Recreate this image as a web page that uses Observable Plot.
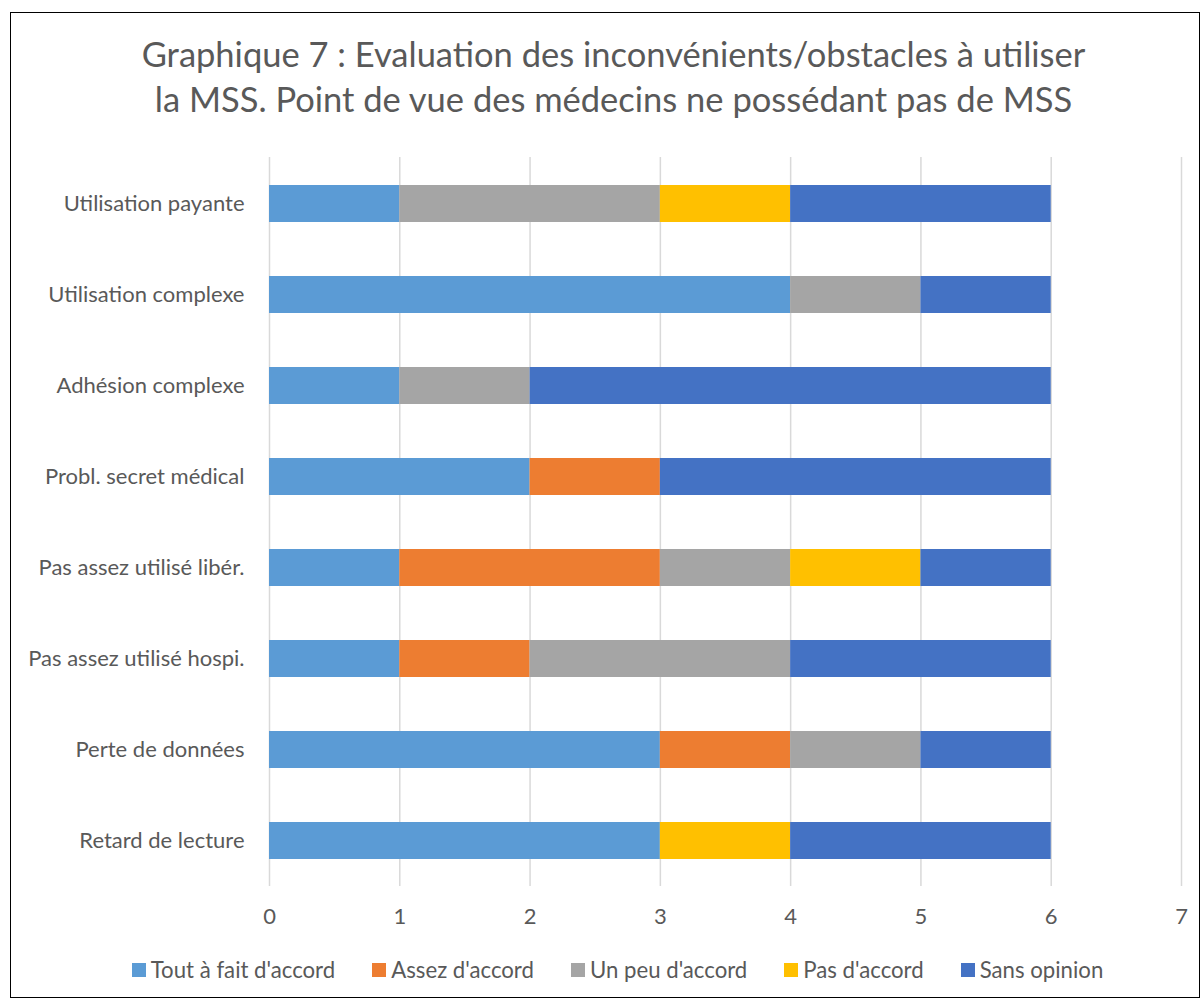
<!DOCTYPE html>
<html><head><meta charset="utf-8">
<script src="https://cdn.jsdelivr.net/npm/d3@7"></script>
<script src="https://cdn.jsdelivr.net/npm/@observablehq/plot@0.6"></script>
<style>
html,body{margin:0;padding:0;background:#fff;}
#wrap{position:relative;width:1203px;height:1001px;overflow:hidden;font-family:Lato,"Open Sans",sans-serif;color:#595959;}
#frame{position:absolute;left:10px;top:12px;width:1190px;height:986px;border:1.5px solid #000;box-sizing:border-box;}
#title{position:absolute;left:12px;top:31px;width:1203px;text-align:center;font-size:34.5px;line-height:45px;color:#595959;}
#chart{position:absolute;left:0;top:130px;}
#legend{position:absolute;left:16px;top:956px;width:1203px;display:flex;justify-content:center;gap:37px;font-size:22.2px;line-height:28px;}
.item{display:flex;align-items:center;}
.sw{width:14px;height:14px;margin-right:5px;display:inline-block;}
</style></head>
<body><div id="wrap"><div id="frame"></div>
<div id="title">Graphique 7 : Evaluation des inconvénients/obstacles à utiliser<br>la MSS. Point de vue des médecins ne possédant pas de MSS</div>
<div id="chart"></div><div id="legend"></div></div>
<script>
const categories = ["Utilisation payante","Utilisation complexe","Adhésion complexe","Probl. secret médical","Pas assez utilisé libér.","Pas assez utilisé hospi.","Perte de données","Retard de lecture"];
const seriesNames = ["Tout à fait d'accord","Assez d'accord","Un peu d'accord","Pas d'accord","Sans opinion"];
const seriesColors = ["#5B9BD5","#ED7D31","#A5A5A5","#FFC000","#4472C4"];
const toutAFait = [1,4,1,2,1,1,3,3];
const assez     = [0,0,0,1,2,1,1,0];
const unPeu     = [2,1,1,0,1,2,1,0];
const pas       = [1,0,0,0,1,0,0,1];
const sansOpin  = [2,1,4,3,1,2,1,2];
const xTicks = [0,1,2,3,4,5,6,7];

const seriesValues = [toutAFait, assez, unPeu, pas, sansOpin];
const rows = [];
seriesNames.forEach((s, si) => categories.forEach((c, ci) => rows.push({cat: c, series: s, value: seriesValues[si][ci]})));

const chart = Plot.plot({
  width: 1203, height: 820,
  marginLeft: 269, marginRight: 22, marginTop: 27, marginBottom: 64,
  style: {fontFamily: "Lato, 'Open Sans', sans-serif", fontSize: "22px", color: "#595959", background: "transparent"},
  x: {domain: [0, 7], ticks: xTicks, tickFormat: "d", label: null},
  y: {domain: categories, padding: 0, label: null},
  color: {domain: seriesNames, range: seriesColors},
  marks: [
    Plot.gridX(xTicks, {stroke: "#D9D9D9", strokeOpacity: 1, strokeWidth: 1.5}),
    Plot.barX(rows, Plot.stackX({x: "value", y: "cat", fill: "series", order: seriesNames, insetTop: 27, insetBottom: 27})),
    Plot.axisX({ticks: xTicks, tickFormat: "d", tickSize: 0, tickPadding: 22, fontSize: 22, label: null}),
    Plot.axisY({tickSize: 0, tickPadding: 25, fontSize: 22, label: null})
  ]
});
document.getElementById("chart").appendChild(chart);

const leg = document.getElementById("legend");
seriesNames.forEach((s, i) => {
  const it = document.createElement("div"); it.className = "item";
  const sw = document.createElement("span"); sw.className = "sw"; sw.style.background = seriesColors[i];
  it.appendChild(sw); it.appendChild(document.createTextNode(s)); leg.appendChild(it);
});
</script></body></html>
